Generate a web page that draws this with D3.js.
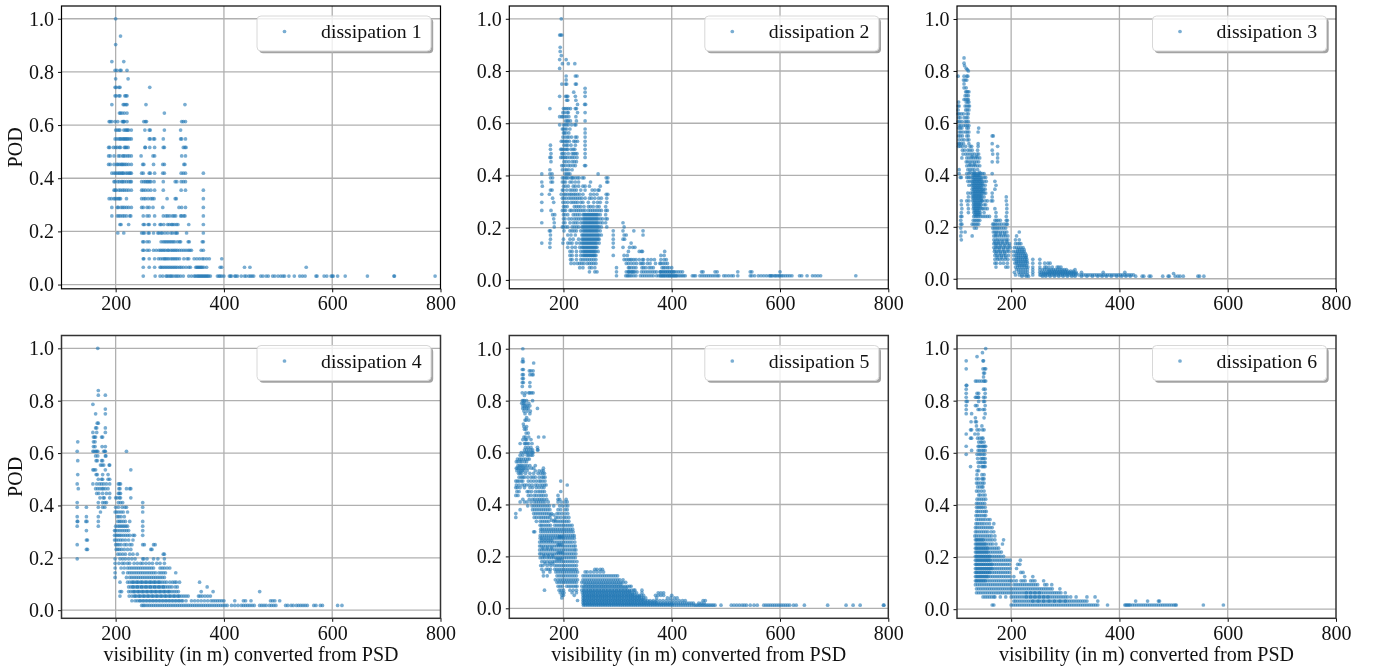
<!DOCTYPE html>
<html><head><meta charset="utf-8">
<script src="https://cdn.jsdelivr.net/npm/d3@7"></script>
<style>
html,body{margin:0;padding:0;background:#fff}
svg{display:block;filter:blur(.3px)}
text{font-family:"Liberation Serif","Times New Roman",serif;fill:#111}
</style></head><body><div id="c"></div>
<script>
// each row: [POD, visibility, visibility, ...]
const xTicks=[200,400,600,800];
const yTicks=[0,0.2,0.4,0.6,0.8,1.0];
const xLabel="visibility (in m) converted from PSD";
const yLabel="POD";
const names=["dissipation 1","dissipation 2","dissipation 3","dissipation 4","dissipation 5","dissipation 6"];

const rows1=[
[1,200],[.935,209],[.903,200],[.839,193,215],[.806,199,202,208,210,221],[.774,200,223],[.742,199,201,206,208,263],
[.71,199,201,206,208,217,219,221],[.677,193,214,216,219,221,256,328],[.645,207,209,212,216,221,290],
[.613,188,190,193,199,204,212,214,215,216,221,252,255,257,322,325,329],
[.581,200,203,206,208,215,218,220,222,224,229,254,262,264,290,320],
[.548,199,202,206,208,210,213,215,217,219,221,223,226,229,262,264,270,272,288,320,322,329],
[.516,187,189,196,200,203,207,209,216,218,220,223,254,255,263,272,288,290,325,328,330],
[.484,187,190,197,205,208,213,215,218,222,225,229,247,269,272,322,329],
[.452,187,190,197,202,204,207,210,212,214,217,220,224,229,250,252,270,287,290,326,328],
[.419,193,197,200,203,206,208,211,213,215,219,222,225,227,229,248,251,262,264,272,287,290,321,325,329,362],
[.387,197,199,204,207,211,213,216,220,224,227,229,248,252,255,258,260,263,265,271,288,310,313,321,325,329],
[.355,197,199,201,206,209,213,216,220,224,229,248,251,255,260,265,272,288,321,329,362],
[.323,188,192,197,199,202,205,207,209,220,248,252,255,260,265,268,271,295,310,312,362],
[.29,193,203,205,210,213,216,220,224,229,248,251,258,262,269,287,317,322,329,362],
[.258,193,203,206,209,213,216,220,226,228,251,258,262,272,288,293,296,300,305,308,311,320,322,326,328,362],
[.226,208,210,224,251,253,260,262,272,282,284,289,296,299,303,305,308,312,315,335,362],
[.194,204,215,248,251,253,260,262,270,278,280,284,286,291,296,302,305,310,312,314,331,362],
[.161,250,252,258,262,284,288,291,294,297,300,303,306,309,314,318,320,334,336,360,362],
[.129,250,252,258,262,270,275,280,283,286,289,292,296,298,302,305,308,311,314,318,322,326,330,334,337,340,358,362],
[.097,251,252,262,272,279,283,287,290,292,295,298,302,305,308,311,314,318,326,332,335,345,350,355,360,363,368,373,396],
[.065,251,262,272,282,284,287,290,293,296,299,302,305,308,311,314,318,321,325,330,335,338,348,350,352,354,356,358,360,363,368,393,396,438,448,552],
[.032,251,273,282,287,293,295,298,301,303,306,310,313,316,320,325,335,340,345,347,350,352,354,356,358,360,362,364,366,368,370,372,375,388,391,393,396,400,410,412,414,420,422,425,432,438,441,446,449,452,455,468,472,478,482,490,494,500,505,509,512,520,530,540,545,550,570,572,585,590,598,600,602,610,624,665,714,715,790]
];

const rows2=[
[1,196],[.938,193,195,197],[.891,194],[.875,194],[.859,196],[.844,193,205],[.828,198,209,221],[.81,193],
[.781,205,222,225],[.766,205],[.75,197,204,206,222,224],[.734,240],[.719,240,219],[.703,193,204,206,208,222,240],[.688,206,208,223],
[.672,239,241,226],[.656,175,200,203,206,209,213,222,224],[.641,199,202,207,209,226,240],[.625,193,197,199,203,206,210,223],
[.609,204,207,209,213,224,240],[.594,193,200,203,206,209,215,221,223],[.578,198,200,203,206,212,240],[.563,200,202,205,210,240],
[.547,199,203,207,210,215,222,225,240],[.531,196,199,202,205,207,211,219,222,226,240],[.516,176,201,205,208,214,222,240],
[.5,176,195,197,200,203,206,208,214,218,221,240],[.484,177,197,199,203,209,216,219,222,225,240],[.469,175,177,195,198,201,204,207,212,216,220,225,240],
[.453,177,201,205,210,216,220,224],[.438,197,200,204,209,213,218,222,239,241],[.422,175,198,203,206,210,216],[.406,160,175,179,203,206,209,212,264],
[.391,176,180,198,201,204,206,209,214,216,218,222,226,229,235,238,279,282],[.375,160,177,180,198,201,204,212,216,222,228,250,280,282],
[.359,161,200,204,209,218,222,228,236,240,248,268],[.344,176,179,198,200,206,212,216,220,224,232,240,253,258,264,266],
[.328,160,174,196,201,204,208,212,215,219,222,226,230,236,250,256,262,279,282],[.313,180,198,201,205,210,214,218,222,226,230,234,240,248,252,258,265,270,280],
[.297,160,182,199,203,208,214,218,222,226,232,236,246,256,263,268,280],[.281,200,203,207,220,224,228,232,238,246,250,255,262,266,278],
[.266,160,177,198,201,204,212,215,220,224,228,232,236,240,246,250,254,258,262,266,270,278,281],
[.25,180,184,200,203,208,218,222,226,230,236,240,244,248,252,256,260,264,268,278],
[.234,182,200,203,210,215,220,224,228,232,236,240,244,248,252,256,260,264,268,272,278,281],
[.219,160,183,200,203,212,218,222,226,232,236,240,244,248,252,256,260,264,268,272,278,310],
[.203,183,198,200,204,208,216,220,224,228,234,238,242,246,250,254,258,262,266,270,280,312],
[.188,174,176,201,212,216,220,224,232,236,240,244,248,252,256,260,264,268,292,310,330,347],
[.172,176,208,214,222,234,238,242,246,250,254,258,262,266,270,292,312,316,347],
[.156,176,200,212,218,228,234,238,242,246,250,254,258,262,266,292,310,313],
[.141,160,175,199,208,212,216,224,230,234,238,242,246,250,254,258,262,266,292,325],
[.125,175,208,216,222,230,234,238,242,246,250,254,258,262,292,310,322,328,332],
[.109,212,216,224,232,236,240,244,248,252,256,260,264,320,340,344,346,387],
[.094,212,216,224,232,236,240,244,248,252,256,260,292,312,318,380,386],
[.078,213,216,224,232,236,240,244,248,252,256,260,312,316,320,323,326,330,334,340,346,348,356,362,368,380,386,390],
[.063,214,220,226,230,234,238,244,248,252,256,260,316,320,325,330,335,342,345,348,355,360,370,378,380,384,388,392],
[.047,230,236,248,252,258,298,320,322,326,330,334,345,348,352,358,362,366,382,385,388,392,395,400],
[.031,248,258,262,298,316,320,322,325,328,332,336,344,348,352,356,360,364,368,372,378,380,384,388,392,396,400,404,408,412,416,420,455,458,480,484,522,545,548,600],
[.016,298,315,318,320,323,326,330,334,342,346,350,354,358,362,366,372,376,379,382,385,388,392,395,398,401,404,407,410,413,416,419,422,425,438,441,444,452,456,460,464,468,472,476,480,484,487,496,500,505,510,514,522,545,548,553,560,565,570,575,580,582,584,586,590,592,595,598,600,603,606,610,614,618,622,636,640,650,660,665,670,675,740],
[.25,238,242,246,250,254,258,262],[.234,238,242,246,250,254,258,262],[.219,238,242,246,250,254,258,262],[.203,236,240,244,248,252,256,260,264],
[.188,238,242,246,250,254,258,262],[.172,236,240,244,248,252,256,260,264],[.156,236,240,244,248,252,256,260,264],[.141,236,240,244,248,252,256,260],
[.125,236,240,244,248,252,256,260],[.109,238,242,246,250,254,258],[.094,238,242,246,250,254,258],[.031,320,326,330,380,384,388,392,396,400,404],[.016,380,384,388,392,396,400,404,408]
];

const rows3=[
[.85,113],[.83,113],[.82,114],[.81,117],[.805,119],[.8,121],[.78,102,113,118,120],[.765,112,115,118],[.75,113],[.735,113,117],
[.72,116,118,120,122],[.705,115,118,121],[.69,113,116,119,121],[.68,103,117,120,122],[.665,102,104,115,118,121,123],[.65,102,116,119,122],
[.635,102,104,108,112,118,121],[.62,103,106,113,117,120],[.605,102,105,109,115,118,121],[.59,104,107,112,116,119,122],[.58,103,106,109,118,121,140],
[.565,104,107,111,116,119,122,139],[.55,103,106,110,118,121,165,167],[.535,104,109,113,119,122],[.52,103,105,108,112,122,139,165],
[.51,103,106,110,116,124,127,139,175],[.495,110,114,120,124,128,138,165],[.48,111,116,120,124,128,132,137,140,166,175],
[.465,109,118,122,126,130,134,138,142,175],[.45,117,120,124,128,132,136,140,165,175],[.435,118,122,126,130,134,138,142],[.42,104,120,124,128,132,138],
[.405,104,118,122,128,131,134,137,140,143,147,150,165],[.39,106,108,118,121,124,128,131,134,137,140,143,146,150,153],
[.375,120,124,128,131,134,137,140,143,146,150,154,170],[.36,122,127,130,133,136,139,142,145,148,152,172],[.345,128,131,134,137,140,143,146,149,152,170],
[.33,120,125,129,132,135,138,141,144,147,150,153,165],[.315,121,128,131,134,137,140,143,146,150,165,191],[.3,108,118,122,129,132,135,138,141,144,147,152,163,166,191],
[.285,108,120,130,133,136,139,142,145,150,153,192],[.27,109,121,130,133,136,139,142,146,152,170,192],[.255,108,121,131,134,137,140,143,150,172,192],
[.24,107,109,131,134,137,140,144,152,160,172,191],[.225,107,130,133,136,139,142,170,173,176,180,191,193],[.21,107,109,128,131,134,137,140,166,168,171,174,178,182,187,191,193],
[.195,107,132,136,166,169,172,175,178,182,186,190],[.18,108,115,167,170,173,176,180,184,188,192,215],[.165,107,128,168,171,174,178,182,186,190,194,210],
[.15,108,168,172,175,179,183,187,191,194,208,215],[.135,168,171,174,177,181,185,189,193,197,208,212,215,218],[.12,168,172,175,178,182,186,190,194,198,206,210,214,218,222],
[.105,169,173,176,180,184,188,192,196,204,208,212,216,220,224],[.09,170,174,178,182,186,190,195,205,209,213,217,221,225,228],
[.075,170,175,179,184,189,194,205,209,213,217,221,225,229,240,253],[.06,170,173,180,186,193,207,210,214,218,222,226,230,240,253,262,268,272],
[.045,172,190,194,208,212,216,220,224,228,231,240,253,262,265,270,276,285,288,292],
[.035,210,214,218,222,226,230,240,253,258,262,266,270,274,278,282,286,290,294,298,302,318],
[.025,206,214,218,222,226,230,240,253,256,260,264,268,272,276,280,284,288,292,296,300,304,308,312,316,320,330,370,410],
[.02,500],
[.015,208,215,220,225,230,240,253,255,259,263,267,271,275,279,283,287,291,295,299,303,307,311,315,319,325,330,334,338,342,346,350,354,358,362,366,370,374,378,382,386,390,394,398,402,406,410,414,418,422,426],
[.01,220,228,232,258,264,272,280,288,296,304,312,318,330,340,350,360,368,376,385,395,404,412,420,430,442,445,455,458,480,490,492,503,508,512,518,545,548,556],
[.398,130,133,136,139,142],[.382,130,133,136,139,142,145],[.367,129,132,135,138,141,144,147],[.352,130,133,136,139,142,145],[.337,130,133,136,139,142,145,148],
[.322,130,133,136,139,142,145],[.308,130,133,136,139,142,145],[.292,131,134,137,140,143],[.277,131,134,137,140,143],[.262,132,135,138,141],[.247,133,136,139,142],
[.112,212,216,220,224],[.098,210,214,218,222,226],[.082,210,214,218,222,226,228],[.067,210,214,218,222,226,229],[.052,212,216,220,224,228],
[.03,270,275,280,285,290,295,300,305,310,315],[.02,260,265,270,275,280,285,290,295,300,305,310,315,320],
[.172,172,180,188],[.142,170,177,184,192],[.127,172,180,188,196],[.112,170,178,186,194],[.098,172,180,188],[.082,174,182,190],
[.47,128,136],[.44,124,132],[.41,124,132,142],[.3,146,156],[.27,148,156],[.24,148,156]
];

const rows4=[
[1,167],[.839,168],[.821,168,181],[.786,158],[.768,181],[.75,163,181],[.714,166,168],[.696,163,165,181],[.679,158,165,181],[.661,159,161,163,174,176],
[.643,130,159,162],[.625,159,162,175,181],[.607,129,158,160,163,165,167,178,180,181,220],[.589,163,167,181,182],[.571,130,164,166,174,176],
[.554,172,175,178,188,189],[.536,158,160,163,228,181],[.518,130,164,166,176,186],[.5,168,174,176,186,189],[.482,129,158,165,170,174,178,183,189,205,207,209],
[.464,131,163,167,171,175,177,181,186,206,208,220,226,228],[.446,165,169,176,183,189,205,207,209],[.429,171,177,179,189,200,203,207,209,228],
[.411,129,168,176,180,183,205,209,213,250],[.393,129,146,168,176,180,200,205,212,217,220,250],[.375,172,199,202,206,210,214,222,250],[.357,129,146,168,203,206,210,216],
[.339,129,130,145,147,168,204,207,210,214,218,226,250],[.321,129,168,200,204,207,210,213,216,219,222,250],[.304,146,198,200,204,208,212,216,220,224,250],
[.286,198,201,204,207,210,214,218,222,226,232,235,250],[.268,146,148,198,201,205,209,213,218,224,232],[.25,129,200,203,206,210,216,220,226,230,250,253,270,273],
[.232,146,148,201,204,207,211,216,222,228,265,267],[.214,204,208,213,218,226,232,240,288,290],[.196,129,199,208,213,218,224,230,236,250,252,258,270,278,290],
[.179,199,206,212,216,222,226,234,240,246,250,256,262,268,276,282,290],
[.161,199,210,216,222,226,230,234,238,242,246,250,254,258,262,266,270,282,286,290,295,300],
[.143,199,214,222,226,230,234,238,242,246,250,254,258,262,266,270,274,280,284,288,292,311],
[.125,199,220,226,230,234,238,242,246,250,254,258,262,266,270,274,278,282,286,290],
[.107,208,222,226,230,234,238,242,246,250,254,258,262,266,270,274,278,282,286,290,294,300,305,309,312,318,355],
[.089,224,228,232,236,240,244,248,252,256,260,264,268,272,276,280,284,288,292,296,300,304,310,314,369],
[.071,208,211,224,228,232,236,240,244,248,252,256,260,264,268,272,276,280,284,288,292,296,300,304,308,312,316,358,380,466],
[.054,208,225,230,234,238,242,246,250,254,258,262,266,270,274,278,282,286,290,294,298,302,306,310,314,318,322,326,330,334,353,356,360,365,370,375],
[.036,230,236,240,246,252,258,264,270,276,282,288,294,300,306,312,318,324,330,340,346,352,358,364,370,376,380,384,388,392,396,400,420,436,440,450,486,490,494,503],
[.018,248,251,254,258,262,266,270,274,278,282,286,290,294,298,302,306,310,314,318,322,326,330,334,338,342,346,350,354,358,362,366,370,374,378,382,386,390,394,398,402,406,414,420,426,432,436,440,444,448,452,456,466,470,474,478,484,488,492,496,514,518,524,528,534,538,542,546,550,554,566,570,578,582,610,618],
[.107,232,240,248,256,264,272,280],[.089,232,240,248,256,264,272,280,288],[.071,234,242,250,258,266,274,282,290,298],[.054,236,244,252,260,268,276,284,292,300,308,316],[.036,244,250,256,262,268,274,280,286,292,298,304,310,316,322]
];

const rows5=[
[1,125],[.96,125],[.95,124,126],[.945,145],[.92,124,126],[.915,137,140,144],[.9,124,126,138,142,144],[.885,124,126],[.87,124,126,138],[.855,124,138],
[.83,124,130,136,138,141,144],[.82,128],[.8,124,126,128,132,143],[.79,123,126,129,136],[.78,125,128,131,134,138],[.77,125,128,132,135,152],[.76,127,133,139],[.75,129,138],
[.735,132],[.725,129,131,136],[.71,126],[.7,127,132],[.69,128,131],[.675,131,135],[.66,127,130,136,154,164],[.65,125,130,132,140],[.635,120,128,130,133,136,142],
[.62,130,135,140,152],[.61,128,132,136,140,143,152,153],[.6,122,127,131,134,138,142,144],[.59,120,125,133,136,140,143],[.575,115,119,122,126,130,134,137],
[.565,113,116,120,123,128,132],[.55,116,119,122,125,129,133,138,148],[.54,113,115,118,121,124,127,130,135,141,145,163],[.53,114,118,121,124,127,133,148,155,160,163],
[.52,117,120,123,130,138,145,153,158,162,165],[.505,118,122,125,128,134,140,144,148,155,160,163,166],[.49,112,115,118,122,125,135,140,145,150,155,158,162,166,195],
[.475,113,118,124,128,132,137,142,148,152,157,161,165,168,207],[.465,112,115,120,128,138,143,150,155,160,164],[.45,114,118,133,136,141,148,153,157,161,165,195],
[.435,112,116,135,140,146,150,155,159,163,168,190],[.42,125,137,143,147,152,156,160,164,169,190,193,205],[.41,120,128,133,140,146,150,154,158,162,166,172,190,196,203,207],
[.395,134,142,146,150,154,158,162,166,170,174,182,193,198,204,208],[.38,120,143,147,151,155,159,163,167,171,175,190,195,203,207],
[.365,112,145,149,153,157,161,165,169,173,178,188,192,197,203,208],[.35,112,146,150,155,159,163,167,171,175,186,190,195,201,205,210],
[.335,150,157,161,165,169,173,182,186,190,194,198,202,206,210],[.32,157,160,164,168,172,176,184,188,192,196,200,204,208,212,216],
[.305,158,161,165,169,173,177,181,185,189,193,197,201,205,209,213,217],[.295,145,147,158,162,166,170,174,178,182,186,190,194,198,202,206,210,214,218],
[.28,157,161,165,169,173,177,181,185,189,193,197,201,205,209,213,217,220],[.27,157,160,164,168,172,176,180,184,188,192,196,200,204,208,212,216,220],
[.255,156,160,164,168,172,176,180,184,188,192,196,200,204,208,212,216,221],[.24,156,159,163,167,171,175,179,183,187,191,195,199,203,207,211,215,219,222],
[.225,156,160,164,168,172,176,180,184,188,192,196,200,204,208,212,216,220,223],[.21,156,159,163,167,171,175,179,183,187,191,195,199,203,207,211,215,219,223],
[.195,157,161,165,170,174,178,182,186,190,194,198,202,206,210,214,218,222],[.18,160,165,170,175,180,184,188,192,196,200,204,208,212,216,220,225],
[.165,158,162,170,177,184,188,192,196,200,204,208,212,216,220,224],[.15,160,168,172,176,184,188,192,196,200,204,208,212,216,220,224,258,262,268,272],
[.14,163,175,186,190,194,198,202,206,210,214,218,222,226,240,244,250,256,262,268,274],
[.125,163,170,188,192,196,200,204,208,212,216,220,224,236,240,244,248,252,256,260,264,268,272,276,280,284,288,292,296,300],
[.11,185,190,194,198,202,206,210,214,218,222,226,236,240,244,248,252,256,260,264,268,272,276,280,284,288,292,296,300,304,310],
[.1,188,192,196,200,204,208,212,216,220,224,234,238,242,246,250,254,258,262,266,270,274,278,282,286,290,294,298,302,306,310,315],
[.085,190,194,198,206,210,214,218,222,225,234,238,242,246,250,254,258,262,266,270,274,278,282,286,290,294,298,302,306,310,314,318,322,325],
[.07,165,192,196,200,212,218,224,234,238,242,246,250,254,258,262,266,270,274,278,282,286,290,294,298,302,306,310,314,318,322,326,330,332,345],
[.06,194,198,201,216,224,235,239,243,247,251,255,259,263,267,271,275,279,283,287,291,295,299,303,307,311,315,319,323,327,331,335,345,375,380,385],
[.05,197,200,220,236,240,244,248,252,256,260,264,268,272,276,280,284,288,292,296,300,304,308,312,316,320,324,328,332,336,340,344,348,370,375,380,385,400],
[.04,197,236,240,244,248,252,256,260,264,268,272,276,280,284,288,292,296,300,304,308,312,316,320,324,328,332,336,340,344,348,352,372,392,398,405,410],
[.03,226,236,239,243,247,251,255,259,263,267,271,275,279,283,287,291,295,299,303,307,311,315,319,323,327,331,335,339,343,347,351,355,360,366,372,378,384,390,396,402,408,414,420,425,458,462],
[.02,236,240,244,248,252,256,260,264,268,272,276,280,284,288,292,296,300,304,308,312,316,320,324,328,332,336,340,344,348,352,356,360,364,368,372,376,380,384,388,392,396,400,404,408,412,416,420,424,428,432,436,440,450,455,460],
[.012,237,241,245,249,253,257,261,265,269,273,277,281,285,289,293,297,301,305,309,313,317,321,325,329,333,337,341,345,349,353,357,361,365,369,373,377,381,385,389,393,397,401,405,409,413,417,421,425,429,433,437,441,444,447,450,453,456,459,462,465,468,471,474,477,480,491,510,515,520,525,530,534,538,545,552,558,570,574,578,582,586,590,594,598,602,606,610,614,618,625,630,645,688,722,735,748,791,792],
[.092,240,246,252,258,264,270,276,282,288,294,300,306],[.078,238,244,250,256,262,268,274,280,286,292,298,304,310,316],[.065,238,244,250,256,262,268,274,280,286,292,298,304,310,316,322],
[.055,238,244,250,256,262,268,274,280,286,292,298,304,310,316,322,328],[.045,238,244,250,256,262,268,274,280,286,292,298,304,310,316,322,328,334,340],
[.035,238,244,250,256,262,268,274,280,286,292,298,304,310,316,322,328,334,340,346],[.025,238,244,250,256,262,268,274,280,286,292,298,304,310,316,322,328,334,340,346,352,358,364,370],
[.016,238,244,250,256,262,268,274,280,286,292,298,304,310,316,322,328,334,340,346,352,358,364,370,376,382,388,394,400],
[.275,192,194,198],[.245,190,193,197],[.215,190,194,198],[.19,188,192,196],
[.36,176,182],[.34,178,184],[.262,160,166,172,178],[.232,162,170,178],[.202,164,172,180],[.172,166,174,180]
];

const rows6=[
[1,153],[.984,147],[.969,137],[.953,117,148,149],[.922,117,148,151,153],[.906,149,151],[.891,149],[.875,134,137,141,145,149,151,153],[.859,117,118],[.844,117,149,152],
[.828,117,137,140,152],[.813,117,134,136,139,140,149,152],[.797,117,119,140,149,151],[.781,117,134,137,152],[.766,117,139,142,148,151],[.75,117,127,152],
[.734,134,150],[.719,126,134,136],[.703,136,146],[.688,125,127,137,141,147,150],[.672,117,133,139],[.656,125,127,138,142,146,148],[.641,140,144,146,150],
[.625,117,139,141,144,147,149,151,153],[.609,127,139,142,146,149,152],[.594,117,137,141,144,148,151],[.578,138,144,147,149,152],[.563,139,143,146,150,152],
[.547,125,140,146,148,150,152],[.531,137,140],[.516,137,146,150],[.5,136,140,146,148,150],[.484,136,139,143,147,150],[.469,138,142,146,148],[.453,136,140,145,150],
[.438,140,143,148,152],[.422,137,141,145,149,153],[.406,136,139,143,147,151],[.391,136,139,142,145,148,152],[.375,136,139,143,147,151,154],[.359,135,138,142,146,150,153],
[.344,136,140,144,148,152,157,161],[.328,135,138,142,146,150,155,160,168],[.313,134,137,141,145,149,153,157,161,165],[.297,134,137,141,145,149,153,157,163,168],
[.281,133,136,140,144,148,152,156,160,164,170],[.266,134,137,141,145,149,153,157,161,165,170,186],[.25,134,138,142,146,150,154,158,162,166,172,184],
[.234,134,137,141,145,149,153,157,161,165,169,173,177],[.219,134,138,142,146,150,154,158,162,166,170,174,178,182],[.203,134,137,141,145,149,153,157,161,165,169,173,177,181,186],
[.188,134,138,142,146,150,154,158,162,166,170,174,178,182,186,190,194,198,217],[.172,134,137,141,145,149,153,157,161,165,169,173,177,181,185,189,193,197,212,216],
[.156,134,138,142,146,150,154,158,162,166,170,174,178,182,186,190,194,198,210],[.141,134,137,141,145,149,153,157,161,165,169,173,177,181,185,189,193,197,218,222],
[.125,134,138,142,146,150,154,158,162,166,170,174,178,182,186,190,194,198,205,225,240],
[.109,134,137,141,145,149,153,157,161,165,169,173,177,181,185,189,193,197,200,205,210,218,222,226,236,240,244,260],
[.094,134,138,142,146,150,154,158,162,166,170,174,178,182,186,190,194,198,205,209,213,217,221,225,229,233,237,241,245,249,262,266,275],
[.078,136,140,144,148,152,156,160,164,168,172,176,180,184,188,192,196,200,204,208,212,216,220,224,228,232,236,240,244,248,252,256,260,264,268,272,276,290],
[.063,136,140,144,148,152,156,160,164,168,172,176,180,184,188,192,196,200,204,208,212,216,220,224,228,232,236,240,244,248,252,256,260,264,268,272,276,280,284,288,292,300],
[.047,148,152,156,160,164,168,170,180,190,200,204,208,212,216,220,224,228,232,236,240,244,248,252,256,260,264,268,272,276,280,284,288,292,296,300,304,310,320,340,355],
[.031,205,208,212,216,220,224,228,232,236,240,244,248,252,256,260,264,268,272,276,280,284,288,292,296,300,304,308,312,316,320,324,328,332,336,340,360,430,452,472,474],
[.016,165,168,200,204,208,212,216,220,224,228,232,236,240,244,248,252,256,260,264,268,272,276,280,284,288,292,296,300,304,308,312,316,320,324,328,332,336,340,344,348,352,356,360,378,410,412,414,416,418,420,424,428,432,436,440,444,448,452,456,460,464,468,472,476,480,484,488,492,496,500,503,505,555,592],
[.266,136,140,144,148],[.25,136,140,144,148,152],[.234,136,140,144,148,152,156],[.219,136,140,144,148,152,156],[.203,136,140,144,148,152,156,160],[.188,136,140,144,148,152,156,160],
[.172,136,140,144,148,152,156,160,164],[.156,136,140,144,148,152,156,160,164],[.141,136,140,144,148,152,156,160],[.125,136,140,144,148,152,156],[.109,136,140,144,148,152],
[.063,228,236,244,252],[.047,228,236,244,252,260,268],[.031,240,250,260,270,280,290,300]
];

const allRows=[rows1,rows2,rows3,rows4,rows5,rows6];
const yDomains=[[-.016,1.048],[-.034,1.049],[-.0386,1.05],[-.031,1.049],[-.0385,1.051],[-.035,1.05]];
const panelLefts=[61.5,509.3,957];
const panelW=379;
const rowTops=[6,335.5];
const panelH=282.8;

const W=1376,H=671;
const svg=d3.select("#c").append("svg").attr("width",W).attr("height",H);
const fs=20;

allRows.forEach((rows,i)=>{
  const col=i%3,row=Math.floor(i/3);
  const L=panelLefts[col],T=rowTops[row];
  const g=svg.append("g").attr("transform",`translate(${L},${T})`);
  const x=d3.scaleLinear().domain([100,800]).range([0,panelW]);
  const y=d3.scaleLinear().domain(yDomains[i]).range([panelH,0]);
  const lw=174,lh=35,lx=panelW-10-lw+.5,ly=10;
  // legend shadow and backing go under the grid; the translucent face goes on top
  g.append("rect").attr("x",lx+2.2).attr("y",ly+2.2).attr("width",lw).attr("height",lh).attr("rx",4).attr("fill","#999").attr("fill-opacity",.9);
  g.append("rect").attr("x",lx).attr("y",ly).attr("width",lw).attr("height",lh).attr("rx",4).attr("fill","#fff");
  // grid
  g.append("g").selectAll("line").data(xTicks.slice(0,3)).join("line")
    .attr("x1",d=>x(d)).attr("x2",d=>x(d)).attr("y1",0).attr("y2",panelH)
    .attr("stroke","#b0b0b0").attr("stroke-width",1.3);
  g.append("g").selectAll("line").data(yTicks).join("line")
    .attr("x1",0).attr("x2",panelW).attr("y1",d=>y(d)).attr("y2",d=>y(d))
    .attr("stroke","#b0b0b0").attr("stroke-width",1.3);
  // points
  const pts=rows.flatMap(r=>r.slice(1).map(v=>({v,p:r[0]})));
  g.append("g").selectAll("circle").data(pts).join("circle")
    .attr("cx",d=>x(d.v)).attr("cy",d=>y(d.p)).attr("r",1.85)
    .attr("fill","#1f77b4").attr("fill-opacity",.6);
  // axes
  const ax=g.append("g").attr("transform",`translate(0,${panelH})`)
    .call(d3.axisBottom(x).tickValues(xTicks).tickFormat(d3.format("d")).tickSize(3.5).tickPadding(4));
  const ay=g.append("g").call(d3.axisLeft(y).tickValues(yTicks).tickFormat(d3.format(".1f")).tickSize(3.5).tickPadding(4));
  [ax,ay].forEach(a=>{
    a.select(".domain").remove();
    a.selectAll("line").attr("stroke","#111").attr("stroke-width",1);
    a.selectAll("text").attr("font-size",fs).attr("fill","#111");
  });
  g.append("rect").attr("width",panelW).attr("height",panelH).attr("fill","none")
    .attr("stroke",row?"#333":"#000").attr("stroke-width",row?1.5:1.2);
  // legend
  const lg=g.append("g").attr("transform",`translate(${lx},${ly})`);
  lg.append("rect").attr("width",lw).attr("height",lh).attr("rx",4)
    .attr("fill","#fff").attr("fill-opacity",.8).attr("stroke","#d8d8d8").attr("stroke-width",1);
  lg.append("circle").attr("cx",27.5).attr("cy",15.5).attr("r",1.85).attr("fill","#1f77b4").attr("fill-opacity",.6);
  lg.append("text").attr("x",64).attr("y",22).attr("font-size",19.8).text(names[i]);
  // labels
  if(row===1){
    g.append("text").attr("x",panelW/2).attr("y",325.5).attr("text-anchor","middle").attr("font-size",fs).text(xLabel);
  }
  if(col===0){
    g.append("text").attr("transform",`translate(${21.6-L},${panelH/2})rotate(-90)`).attr("text-anchor","middle").attr("font-size",fs).text(yLabel);
  }
});
</script></body></html>
